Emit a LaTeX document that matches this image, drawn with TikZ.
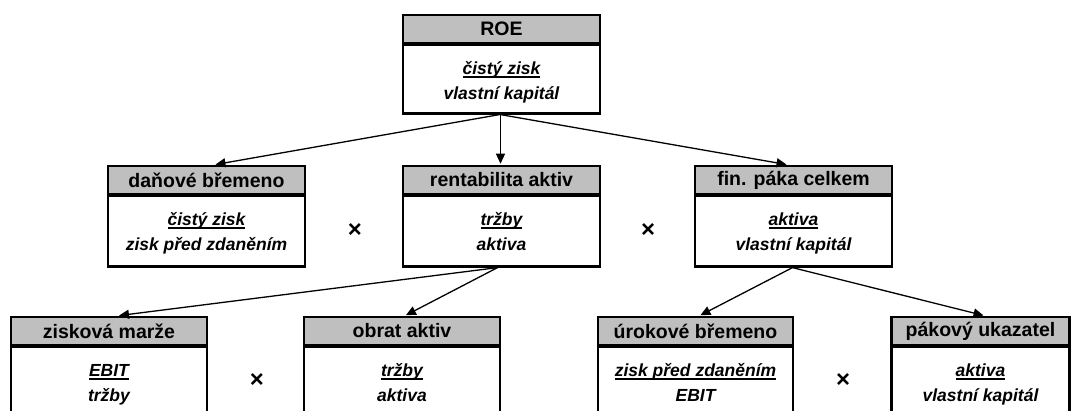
\documentclass[tikz,border=0pt]{standalone}
\usepackage{fontspec}
\setmainfont{Liberation Sans}
\usetikzlibrary{arrows.meta}

% numerator with a rule set just under the baseline
\newcommand\numer[1]{\setbox0\hbox{#1}\rlap{\rule[-3.6pt]{\wd0}{1.2pt}}\box0}

% one indicator box: name, centre x, top y, width, body height, title, numerator, denominator
\newcommand\ratiobox[8]{%
  \node[hdr, minimum width=#4] (#1-h) at (#2,#3+14) {#6};
  \node[bdy, minimum width=#4, minimum height=#5, anchor=north] (#1) at (#2,#3+28) {};
  \node[txt, anchor=base] (#1-n) at (#2,#3+59) {\numer{#7}};
  \node[txt, anchor=base] (#1-d) at (#2,#3+84) {#8};
}

\tikzset{
  hdr/.style={draw, fill=black!25, line width=2.6pt, minimum height=28pt, inner sep=0pt,
              font=\fontsize{19.5}{22}\selectfont\bfseries},
  bdy/.style={draw, line width=2.6pt, inner sep=0pt},
  txt/.style={inner sep=0pt, font=\fontsize{17.5}{21}\selectfont\bfseries\itshape},
  times/.style={inner sep=0pt, font=\fontsize{24}{26}\selectfont\bfseries},
  arr/.style={line width=1.3pt, -{Triangle[length=10pt,width=9pt]}, shorten >=1pt},
}

\begin{document}
\begin{tikzpicture}[x=1pt, y=-1pt]
  \useasboundingbox (0,0) rectangle (1078,410);
  \clip (0,0) rectangle (1078,410);

  % top level
  \ratiobox{roe}{501.5}{15}{197}{69}{ROE}{čistý zisk}{vlastní kapitál}

  % second level
  \ratiobox{dan}{206.5}{166}{197}{71}{daňové břemeno}{čistý zisk}{zisk před zdaněním}
  \ratiobox{ren}{501.5}{166}{197}{71}{rentabilita aktiv}{tržby}{aktiva}
  \ratiobox{fin}{793.5}{166}{197}{71}{fin. páka celkem}{aktiva}{vlastní kapitál}
  \node[times] (x1) at (355,230) {×};
  \node[times] (x2) at (648,230) {×};

  % third level (boxes run past the lower edge)
  \ratiobox{zis}{109}{317}{196}{100}{zisková marže}{EBIT}{tržby}
  \ratiobox{obr}{402}{317}{196}{100}{obrat aktiv}{tržby}{aktiva}
  \ratiobox{uro}{695.5}{317}{195}{100}{úrokové břemeno}{zisk před zdaněním}{EBIT}
  \ratiobox{pak}{980.5}{317}{178}{100}{pákový ukazatel}{aktiva}{vlastní kapitál}
  \node[times] (x3) at (257,380) {×};
  \node[times] (x4) at (843,380) {×};

  % connectors
  \draw[arr] ([xshift=-2pt]roe.south) -- ([xshift=8pt]dan-h.north);
  \draw[arr] ([xshift=-1pt]roe.south) -- ([xshift=-1pt]ren-h.north);
  \draw[arr] ([xshift=-1pt]roe.south) -- ([xshift=-6pt]fin-h.north);
  \draw[arr] ([xshift=-4pt]ren.south) -- ([xshift=9pt]zis-h.north);
  \draw[arr] ([xshift=-4pt]ren.south) -- ([xshift=3pt]obr-h.north);
  \draw[arr] ([xshift=-1pt]fin.south) -- ([xshift=4pt]uro-h.north);
  \draw[arr] ([xshift=-1pt]fin.south) -- ([xshift=4pt]pak-h.north);
\end{tikzpicture}
\end{document}
